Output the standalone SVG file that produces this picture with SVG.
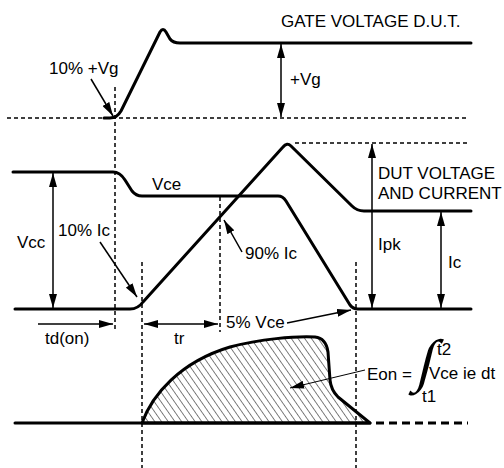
<svg xmlns="http://www.w3.org/2000/svg" width="504" height="468" viewBox="0 0 504 468">
<style>
.w{fill:none;stroke:#000;stroke-width:3;stroke-linejoin:round;stroke-linecap:round}
.d{fill:none;stroke:#000;stroke-width:1.5;stroke-dasharray:4 3}
.a{fill:none;stroke:#000;stroke-width:1.5}
text{font-family:"Liberation Sans",Arial,sans-serif;font-size:17px;fill:#000}
</style>
<defs>
<marker id="ah" markerUnits="userSpaceOnUse" markerWidth="14" markerHeight="8" refX="14" refY="4" orient="auto-start-reverse"><path d="M0,0 L14,4 L0,8 z" fill="#000"/></marker>
<pattern id="hatch" patternUnits="userSpaceOnUse" width="5.5" height="10" patternTransform="rotate(-35)"><line x1="0" y1="0" x2="0" y2="10" stroke="#000" stroke-width="1"/></pattern>
</defs>
<g id="gate">
<line class="d" x1="7" y1="118" x2="468" y2="118"/>
<path class="w" d="M104,118 H110 Q117,118 121,111 L160,32 Q163,27 166,32 L170,39 Q173,43 180,43 H471"/>
</g>
<g id="dashed">
<line class="d" x1="115" y1="87" x2="115" y2="332"/>
<line class="d" x1="142" y1="262" x2="142" y2="468"/>
<line class="d" x1="220" y1="197" x2="220" y2="332"/>
<line class="d" x1="356" y1="262" x2="356" y2="468"/>
<line class="d" x1="295" y1="143" x2="468" y2="143"/>
</g>
<g id="vce">
<path class="w" d="M13,172 H113 Q120,172 125,180 L132,191 Q136,196 142,196 H278 Q283,196 286,201 L350,305 Q353,309 358,309 H471"/>
</g>
<g id="ic">
<path class="w" d="M15,309 H130 Q138,309 143,302 L283,147 Q287,142 291,146 L352,206 Q357,211 364,211 H471"/>
</g>
<g id="energy">
<path d="M142,423 C152,395 180,362 230,347 C260,339 295,336 315,337 Q326,338 328,352 L330,380 Q331,390 338,397 L370,423 Z" fill="url(#hatch)" stroke="#000" stroke-width="3" stroke-linejoin="round"/>
<line class="w" x1="15" y1="423" x2="370" y2="423"/>
<line x1="376" y1="423" x2="468" y2="423" stroke="#000" stroke-width="3" stroke-dasharray="8 5"/>
</g>
<g id="connectors">
<line class="a" x1="281" y1="44" x2="281" y2="117" marker-start="url(#ah)" marker-end="url(#ah)"/>
<line class="a" x1="91" y1="79" x2="113" y2="116" marker-end="url(#ah)"/>
<line class="a" x1="53" y1="173" x2="53" y2="308" marker-start="url(#ah)" marker-end="url(#ah)"/>
<line class="a" x1="100" y1="242" x2="137" y2="297" marker-end="url(#ah)"/>
<line class="a" x1="242" y1="252" x2="224" y2="220" marker-end="url(#ah)"/>
<line class="a" x1="372" y1="144" x2="372" y2="308" marker-start="url(#ah)" marker-end="url(#ah)"/>
<line class="a" x1="441" y1="212" x2="441" y2="308" marker-start="url(#ah)" marker-end="url(#ah)"/>
<line class="a" x1="38" y1="324" x2="113" y2="324" marker-end="url(#ah)"/>
<line class="a" x1="144" y1="324" x2="218" y2="324" marker-start="url(#ah)" marker-end="url(#ah)"/>
<line class="a" x1="287" y1="323" x2="351" y2="310" marker-end="url(#ah)"/>
<line x1="365" y1="370" x2="290" y2="388" stroke="#000" stroke-width="1" marker-end="url(#ah)"/>
</g>
<g id="labels">
<text x="281" y="27">GATE VOLTAGE D.U.T.</text>
<text x="290" y="85">+Vg</text>
<text x="49" y="74">10% +Vg</text>
<text x="152" y="190">Vce</text>
<text x="17" y="248">Vcc</text>
<text x="58" y="236">10% Ic</text>
<text x="245" y="259">90% Ic</text>
<text x="378" y="179">DUT VOLTAGE</text>
<text x="378" y="199">AND CURRENT</text>
<text x="378" y="250">Ipk</text>
<text x="448" y="268">Ic</text>
<text x="45" y="344">td(on)</text>
<text x="174" y="344">tr</text>
<text x="226" y="328">5% Vce</text>
<text x="367" y="380">Eon =</text>
<text x="437" y="355">t2</text>
<text x="429" y="379">Vce ie dt</text>
<text x="422" y="402">t1</text>
<text transform="translate(415,380) skewX(-14)" style="font-family:'Liberation Serif',serif;font-size:58px">∫</text>
</g>
</svg>
